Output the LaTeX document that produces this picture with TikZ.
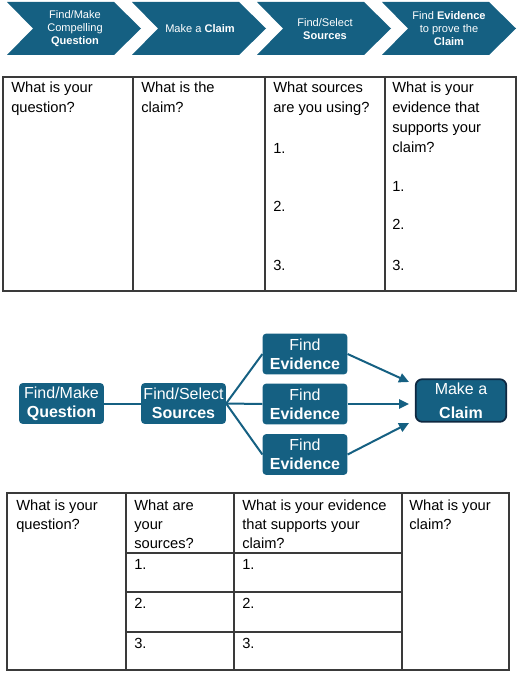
\documentclass[tikz,border=0pt]{standalone}
\usepackage{fontspec}
\setmainfont{Liberation Sans}
\usetikzlibrary{arrows.meta}
\definecolor{teal1}{HTML}{156082}
\definecolor{navy1}{HTML}{0E2841}
\definecolor{grid1}{HTML}{3A3A3A}
\newcommand{\celltext}[1]{\begin{tabular}[t]{@{}l@{}}#1\end{tabular}}
\tikzset{
  chev/.style={fill=teal1},
  chevtxt/.style={text=white, align=center, font=\fontsize{8.3pt}{10pt}\selectfont, inner sep=0pt},
  tabline/.style={draw=grid1, line width=1pt},
  celltxt/.style={anchor=base west, inner sep=0pt, font=\fontsize{11pt}{15pt}\selectfont},
  celltxtb/.style={anchor=base west, inner sep=0pt, font=\fontsize{11pt}{14.6pt}\selectfont},
  stepbox/.style={fill=teal1, rounded corners=2.5pt, text=white, align=center, minimum width=63.5pt, minimum height=30.5pt, inner sep=0pt, font=\fontsize{12pt}{14pt}\selectfont},
  claimbox/.style={fill=teal1, draw=navy1, line width=1.3pt, rounded corners=5pt, text=white, align=center, minimum width=68pt, minimum height=32pt, inner sep=0pt, font=\fontsize{12pt}{18pt}\selectfont},
  link/.style={draw=teal1, line width=1.5pt},
  arr/.style={draw=teal1, line width=1.5pt, -{Triangle[length=7.5pt,width=7pt]}}
}
\begin{document}
\begin{tikzpicture}[x=0.75pt,y=-0.75pt]
\useasboundingbox (0,0) rectangle (520,673);
% chevrons
\foreach \i in {0,1,2,3}{
  \pgfmathsetmacro{\xo}{7+125*\i}
  \fill[chev] (\xo,2) -- (\xo+107,2) -- (\xo+134,28.5) -- (\xo+107,55) -- (\xo,55) -- (\xo+26,28.5) -- cycle;
}
\node[chevtxt] (c1) at (75,28.5) {Find/Make\\Compelling\\\textbf{Question}};
\node[chevtxt] (c2) at (200,28.5) {Make a \textbf{Claim}};
\node[chevtxt] (c3) at (325,29) {Find/Select\\\textbf{Sources}};
\node[chevtxt] (c4) at (449,28.5) {Find \textbf{Evidence}\\to prove the\\\textbf{Claim}};
% top table
\draw[tabline] (3,77) rectangle (516,291);
\draw[tabline] (133,77) -- (133,291);
\draw[tabline] (265,77) -- (265,291);
\draw[tabline] (385,77) -- (385,291);
\node[celltxt] (t1) at (11,93) {\celltext{What is your\\question?}};
\node[celltxt] (t2) at (141,93) {\celltext{What is the\\claim?}};
\node[celltxt] (t3) at (273,93) {\celltext{What sources\\are you using?}};
\node[celltxt] (t31) at (273,154) {1.};
\node[celltxt] (t32) at (273,212) {2.};
\node[celltxt] (t33) at (273,270) {3.};
\node[celltxt] (t4) at (392,93) {\celltext{What is your\\evidence that\\supports your\\claim?}};
\node[celltxt] (t41) at (392,192) {1.};
\node[celltxt] (t42) at (392,230) {2.};
\node[celltxt] (t43) at (392,270) {3.};
% middle diagram
\node[stepbox] (q) at (61.5,403.5) {Find/Make\\\textbf{Question}};
\node[stepbox] (s) at (183.5,403.5) {Find/Select\\\textbf{Sources}};
\node[stepbox] (e1) at (305,354) {Find\\\textbf{Evidence}};
\node[stepbox] (e2) at (305,404) {Find\\\textbf{Evidence}};
\node[stepbox] (e3) at (305,454.5) {Find\\\textbf{Evidence}};
\node[claimbox] (cl) at (461,400.5) {Make a\\\textbf{Claim}};
\coordinate (a1) at (409,382);
\coordinate (a2) at (409,404);
\coordinate (a3) at (409,423);
\draw[link] (q) -- (s);
\draw[link] (s.east) -- (e1.west);
\draw[link] (s.east) -- (e2.west);
\draw[link] (s.east) -- (e3.west);
\draw[arr] (e1.east) -- (a1);
\draw[arr] (e2.east) -- (a2);
\draw[arr] (e3.east) -- (a3);
% bottom table
\draw[tabline] (7,493) rectangle (509,670);
\draw[tabline] (126,493) -- (126,670);
\draw[tabline] (234,493) -- (234,670);
\draw[tabline] (402,493) -- (402,670);
\draw[tabline] (126,553) -- (402,553);
\draw[tabline] (126,592) -- (402,592);
\draw[tabline] (126,632) -- (402,632);
\node[celltxtb] (b1) at (16,510) {\celltext{What is your\\question?}};
\node[celltxtb] (b2) at (134,510) {\celltext{What are\\your\\sources?}};
\node[celltxtb] (b3) at (242,510) {\celltext{What is your evidence\\that supports your\\claim?}};
\node[celltxtb] (b4) at (409,510) {\celltext{What is your\\claim?}};
\node[celltxtb] (b21) at (134,569) {1.};
\node[celltxtb] (b22) at (134,608) {2.};
\node[celltxtb] (b23) at (134,648) {3.};
\node[celltxtb] (b31) at (242,569) {1.};
\node[celltxtb] (b32) at (242,608) {2.};
\node[celltxtb] (b33) at (242,648) {3.};
\end{tikzpicture}
\end{document}
